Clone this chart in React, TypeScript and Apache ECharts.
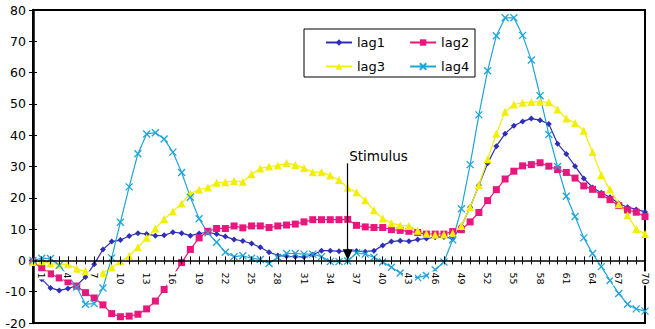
import React, { useEffect, useRef } from 'react';
import * as echarts from 'echarts';

const categories: string[] = Array.from({ length: 71 }, (_, i) => String(i));

const lag1: (number | null)[] = [
  null, -6, -8.8, -9.6, -9, -8, -5.3, -1.2, 3.5, 6, 6.5,
  7.8, 8.7, 8.4, 7.9, 8, 9, 8.7, 7.9, 8.6, 9,
  8.4, 7.6, 6.7, 6.2, 5.4, 4.2, 2.6, 1.6, 1.3, 1.2,
  1.1, 1.8, 3.1, 3.1, 2.9, 3, 3, 2.8, 3.1, 4.8,
  6, 6.3, 6.1, 6.7, 7, 7.4, 7.5, 7, 11, 17,
  24, 31, 36.5, 40.5, 43, 44.4, 45.3, 44.8, 43.6, 37.3,
  34, 30.1, 26.2, 23.3, 21.6, 20.2, 18.2, 17, 16.3, 15.5,
];

const lag2: number[] = [
  -0.5, -2.5, -4.3, -5.6, -6.8, -8.2, -10.3, -12, -14.2, -17, -18,
  -17.8, -17.2, -15.5, -13, -9.3, -5, -0.7, 3.5, 7.2, 9.3,
  10.2, 10.2, 11, 10.4, 11, 11, 10.5, 11, 11.3, 11.6,
  12.3, 13, 13, 13, 13, 13.1, 11.2, 10.7, 10.5, 10.5,
  9.8, 9.6, 9.3, 8.9, 8.4, 8.4, 8.4, 9.2, 9.8, 12.3,
  15.3, 19.1, 22.6, 26, 28.5, 30.2, 30.6, 31.2, 30.1, 29,
  28.1, 26.3, 23.8, 22.7, 21, 19.4, 17.5, 16.1, 15.4, 14,
];

const lag3: number[] = [
  -0.5, -0.3, -1, -1.3, -1.2, -2.7, -3.5, -4.5, -4, -2.3, -0.3,
  1.4, 4.2, 7.2, 10.2, 13.2, 15.6, 18.2, 21.3, 22.6, 23.3,
  24.8, 25, 25.4, 25.1, 27.5, 29.4, 30, 30.3, 31.1, 30.5,
  29.5, 28.2, 28.2, 27.1, 25.7, 23.2, 21.8, 19.2, 16, 13.4,
  11.9, 11.2, 11, 9.5, 8.5, 8.2, 8.3, 8.7, 11, 17,
  24, 32.3, 40.5, 47.5, 49.8, 50.4, 50.6, 50.7, 50.5, 48.2,
  45.3, 43.9, 41.4, 34.6, 27.3, 22.7, 17.9, 14.4, 10, 8.4,
];

const lag4: number[] = [
  0, 0.7, 0.6, -1.6, -5, -8.5, -14, -13.8, -8.8, 0.8, 12.2,
  23.5, 34.1, 40.4, 40.8, 38.8, 34.6, 28.1, 20.2, 13.3, 8.8,
  5.8, 2.6, 1.2, 1.5, 0.7, 0.3, -1, 1, 2.2, 2.2,
  2, 2, 1.2, -0.4, -0.4, -0.2, 2.4, 2, 1, -0.5,
  -2.2, -4, -5, -5.5, -4.8, -3, -0.5, 6.6, 16.5, 30.6,
  46.5, 60.6, 71.8, 77.5, 77.5, 71.9, 64, 52.6, 40.2, 30,
  20.5, 14, 7.2, 2.2, -2, -6.4, -10.6, -14, -15.5, -16.2,
];

const yMin = -20;
const yMax = 80;
const yStep = 10;

const stimulusCategory = '36';
const stimulusTop = 31;
const stimulusLabelValue = 33.5;

const FONT = 'DejaVu Sans';
const C1 = '#2E2EB8';
const C2 = '#E8177D';
const C3 = '#F2F000';
const C4 = '#1FA5D8';
const CROSS = 'path://M0,0L10,10M10,0L0,10';

const W = 655;
const H = 329;
const G = { left: 33, right: 10, top: 10, bottom: 6 };

export default function App() {
  const ref = useRef<HTMLDivElement>(null);
  useEffect(() => {
    if (!ref.current) return;
    const chart = echarts.init(ref.current, undefined, { renderer: 'svg' });
    const legendText = { color: '#000', fontSize: 13, fontFamily: FONT };
    // pixel row of value 0 in the main grid, used to place the label grid
    const plotH = H - G.top - G.bottom;
    const zeroY = G.top + plotH * (yMax - 0) / (yMax - yMin);
    const option: any = {
      animation: false,
      backgroundColor: '#fff',
      grid: [
        {
          ...G, show: true, borderColor: '#000', borderWidth: 2,
          containLabel: false, outerBoundsMode: 'none',
        },
        {
          left: G.left, right: G.right, top: G.top, bottom: H - zeroY,
          show: false, containLabel: false, outerBoundsMode: 'none',
        },
      ],
      legend: [
        {
          data: ['lag1', 'lag2'], left: 320, top: 31, itemWidth: 26, itemHeight: 8,
          itemGap: 24, textStyle: legendText, selectedMode: false,
        },
        {
          data: ['lag3', 'lag4'], left: 320, top: 55, itemWidth: 26, itemHeight: 8,
          itemGap: 24, textStyle: legendText, selectedMode: false,
        },
      ],
      graphic: [
        {
          type: 'rect', shape: { x: 304, y: 29, width: 171, height: 48 },
          style: { fill: 'none', stroke: '#000', lineWidth: 1 }, z: 5,
        },
      ],
      xAxis: [
        {
          gridIndex: 0, type: 'category', data: categories, boundaryGap: false,
          position: 'top', z: 10,
          axisLine: { onZero: true, onZeroAxisIndex: 0, lineStyle: { color: '#000', width: 1.5 } },
          axisTick: { show: true, interval: 0, length: 4, lineStyle: { color: '#000', width: 1 } },
          axisLabel: { show: false },
          splitLine: { show: false },
        },
        {
          gridIndex: 1, type: 'category', data: categories, boundaryGap: false,
          position: 'bottom', z: 11,
          axisLine: { show: false, onZero: false },
          axisTick: { show: true, interval: 0, length: 4, lineStyle: { color: '#000', width: 1 } },
          axisLabel: {
            interval: (i: number) => i % 3 === 1, rotate: -90, margin: 11,
            fontSize: 9.5, fontFamily: FONT, color: '#000',
            backgroundColor: '#fff', padding: [1, 1],
          },
          splitLine: { show: false },
        },
      ],
      yAxis: [
        {
          gridIndex: 0, type: 'value', min: yMin, max: yMax, interval: yStep,
          axisLine: { show: true, lineStyle: { color: '#000', width: 2.5 } },
          axisTick: { show: true, length: 4, lineStyle: { color: '#000', width: 1 } },
          axisLabel: { color: '#000', fontSize: 12.5, fontFamily: FONT, margin: 7 },
          splitLine: { show: false },
        },
        {
          gridIndex: 0, type: 'value', min: yMin, max: yMax, interval: yStep,
          position: 'left', offset: 0,
          axisLine: { show: false },
          axisTick: { show: true, inside: true, length: 4, lineStyle: { color: '#000', width: 1 } },
          axisLabel: { show: false },
          splitLine: { show: false },
        },
        {
          gridIndex: 1, type: 'value', min: 0, max: 1, show: false,
        },
      ],
      series: [
        {
          name: 'lag1', type: 'line', data: lag1, symbol: 'diamond', symbolSize: 6,
          xAxisIndex: 0, yAxisIndex: 0, showAllSymbol: true,
          lineStyle: { color: C1, width: 1.2 }, itemStyle: { color: C1 },
          markLine: {
            silent: true, symbol: ['none', 'triangle'], symbolSize: [10, 11],
            lineStyle: { color: '#000', width: 1.2, type: 'solid' },
            label: { show: false },
            data: [[{ coord: [stimulusCategory, stimulusTop] }, { coord: [stimulusCategory, 1.8] }]],
          },
          markPoint: {
            silent: true, symbol: 'circle', symbolSize: 1,
            itemStyle: { color: 'rgba(0,0,0,0)' },
            label: {
              show: true, position: 'right', distance: 1, formatter: 'Stimulus',
              color: '#000', fontSize: 13.5, fontFamily: FONT,
            },
            data: [{ coord: [stimulusCategory, stimulusLabelValue] }],
          },
        },
        {
          name: 'lag2', type: 'line', data: lag2, symbol: 'rect', symbolSize: 7,
          xAxisIndex: 0, yAxisIndex: 0, showAllSymbol: true,
          lineStyle: { color: C2, width: 1.2 }, itemStyle: { color: C2 },
        },
        {
          name: 'lag3', type: 'line', data: lag3, symbol: 'triangle', symbolSize: 8,
          xAxisIndex: 0, yAxisIndex: 0, showAllSymbol: true,
          lineStyle: { color: C3, width: 1.2 }, itemStyle: { color: C3 },
        },
        {
          name: 'lag4', type: 'line', data: lag4, symbol: CROSS, symbolSize: 7,
          xAxisIndex: 0, yAxisIndex: 0, showAllSymbol: true,
          lineStyle: { color: C4, width: 1.2 },
          itemStyle: { color: C4, borderColor: C4, borderWidth: 1.3 },
        },
      ],
    };
    chart.setOption(option);
    return () => chart.dispose();
  }, []);
  return (
    <div
      ref={ref}
      style={{ position: 'absolute', left: 0, top: 0, width: W, height: H, background: '#fff' }}
    />
  );
}
